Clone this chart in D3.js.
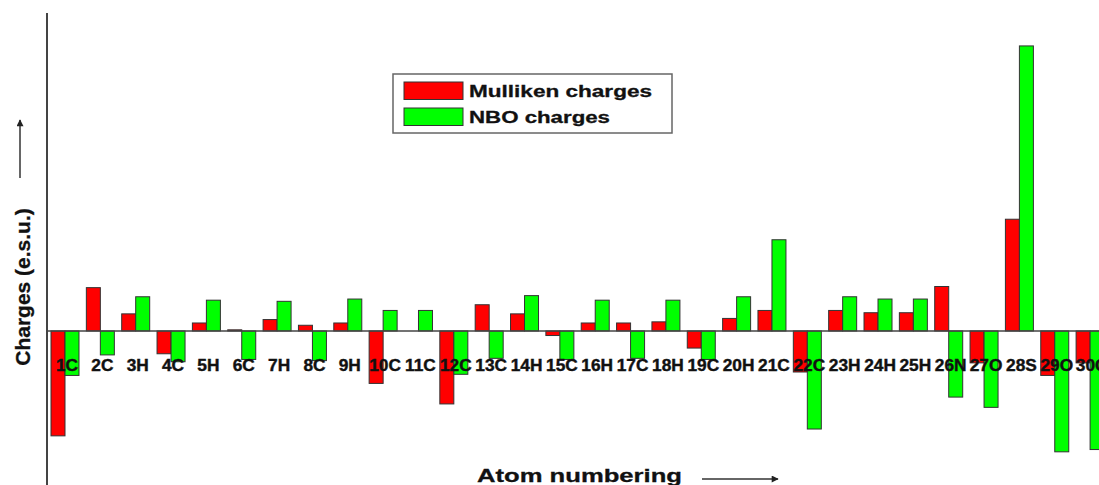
<!DOCTYPE html>
<html>
<head>
<meta charset="utf-8">
<script src="https://cdn.jsdelivr.net/npm/d3@7"></script>
<style>
html,body{margin:0;padding:0;background:#fff;overflow:hidden;}
svg{display:block;font-family:"Liberation Sans",Arial,sans-serif;}
</style>
</head>
<body>
<svg id="chart" width="1099" height="485"></svg>
<script>
const atoms = ["1C","2C","3H","4C","5H","6C","7H","8C","9H","10C","11C","12C","13C","14H","15C","16H","17C","18H","19C","20H","21C","22C","23H","24H","25H","26N","27O","28S","29O","30O"];
const mulliken = [-0.92,0.38,0.15,-0.20,0.07,0.01,0.10,0.05,0.07,-0.46,0.00,-0.64,0.23,0.15,-0.04,0.07,0.07,0.08,-0.15,0.11,0.18,-0.36,0.18,0.16,0.16,0.39,-0.28,0.98,-0.39,-0.28];
const nbo = [-0.39,-0.21,0.30,-0.27,0.27,-0.25,0.26,-0.26,0.28,0.18,0.18,-0.38,-0.24,0.31,-0.25,0.27,-0.24,0.27,-0.25,0.30,0.80,-0.86,0.30,0.28,0.28,-0.58,-0.67,2.50,-1.06,-1.04];
const seriesNames = ["Mulliken charges","NBO charges"];
const seriesColors = ["#ff0000","#00ff00"];

const svg = d3.select("#chart");
const W = 1099, H = 485;

const x = d3.scaleBand().domain(atoms).range([51, 1104.1]).paddingInner(0.208).paddingOuter(0);
const xs = d3.scaleBand().domain([0,1]).range([0, x.bandwidth()]);
const y = d3.scaleLinear().domain([-1.351, 2.78]).range([485, 14]);

const series = [mulliken, nbo];
const g = svg.append("g");
series.forEach((vals, si) => {
  g.selectAll(".bar" + si).data(vals).enter().append("rect")
    .attr("x", (d, i) => x(atoms[i]) + xs(si))
    .attr("width", xs.bandwidth())
    .attr("y", d => y(Math.max(0, d)))
    .attr("height", d => Math.abs(y(d) - y(0)))
    .attr("fill", seriesColors[si])
    .attr("stroke", "#333")
    .attr("stroke-width", 1);
});

// zero line
svg.append("line").attr("x1", 47).attr("x2", W).attr("y1", y(0)).attr("y2", y(0))
  .attr("stroke", "#444").attr("stroke-width", 1.5);

// y axis line
svg.append("line").attr("x1", 47).attr("x2", 47).attr("y1", 13).attr("y2", H)
  .attr("stroke", "#444").attr("stroke-width", 2);

// category labels
const lab = svg.append("g");
atoms.forEach(a => {
  const t = lab.append("text")
    .attr("x", x(a) + x.bandwidth() / 2 + 2)
    .attr("y", 371)
    .attr("text-anchor", "middle")
    .attr("font-size", 16)
    .attr("font-weight", "bold")
    .attr("fill", "#111")
    .attr("stroke", "#111").attr("stroke-width", 0.4)
    .text(a);
  const w = t.node().getComputedTextLength();
  t.attr("textLength", w * 1.08).attr("lengthAdjust", "spacingAndGlyphs");
});

// y title
svg.append("text")
  .attr("transform", "translate(30,287) rotate(-90)")
  .attr("text-anchor", "middle")
  .attr("font-size", 21)
  .attr("font-weight", "bold")
  .attr("fill", "#111")
  .attr("stroke", "#111").attr("stroke-width", 0.3)
  .text("Charges (e.s.u.)");

// arrow marker
const defs = svg.append("defs");
defs.append("marker").attr("id", "arr").attr("viewBox", "0 0 10 10")
  .attr("refX", 9).attr("refY", 5).attr("markerWidth", 10).attr("markerHeight", 7)
  .attr("markerUnits", "userSpaceOnUse").attr("orient", "auto")
  .append("path").attr("d", "M0,0 L10,5 L0,10 z").attr("fill", "#222");

svg.append("line").attr("x1", 20).attr("x2", 20).attr("y1", 178).attr("y2", 120)
  .attr("stroke", "#333").attr("stroke-width", 1.5).attr("marker-end", "url(#arr)");

// x title
svg.append("text")
  .attr("x", 477).attr("y", 482)
  .attr("font-size", 19)
  .attr("font-weight", "bold")
  .attr("fill", "#111")
  .attr("stroke", "#111").attr("stroke-width", 0.3)
  .attr("textLength", 205).attr("lengthAdjust", "spacingAndGlyphs")
  .text("Atom numbering");

svg.append("line").attr("x1", 702).attr("x2", 778).attr("y1", 479).attr("y2", 479)
  .attr("stroke", "#333").attr("stroke-width", 1.5).attr("marker-end", "url(#arr)");

// legend
const leg = svg.append("g");
leg.append("rect").attr("x", 393).attr("y", 74).attr("width", 279).attr("height", 59)
  .attr("fill", "#fff").attr("stroke", "#666").attr("stroke-width", 1.5);
const legY = [82, 108];
const legW = [183, 141];
seriesNames.forEach((n, i) => {
  leg.append("rect").attr("x", 404).attr("y", legY[i]).attr("width", 59).attr("height", 17.5)
    .attr("fill", seriesColors[i]).attr("stroke", "#333").attr("stroke-width", 1);
  leg.append("text").attr("x", 469).attr("y", legY[i] + 15)
    .attr("font-size", 17).attr("font-weight", "bold").attr("fill", "#111")
    .attr("stroke", "#111").attr("stroke-width", 0.3)
    .attr("textLength", legW[i]).attr("lengthAdjust", "spacingAndGlyphs")
    .text(n);
});
</script>
</body>
</html>
